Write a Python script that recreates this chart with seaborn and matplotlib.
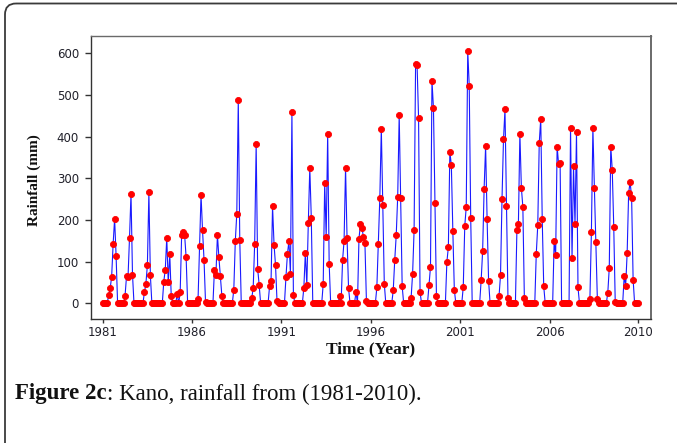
import numpy as np
import pandas as pd
import matplotlib
matplotlib.use("Agg")
import matplotlib.pyplot as plt
from matplotlib.patches import FancyBboxPatch
import seaborn as sns

# Monthly rainfall (mm), Kano, Jan..Dec for each year
y1981 = [0, 0, 0, 0, 19, 36, 63, 142, 203, 113, 0, 0]
y1982 = [0, 0, 0, 18, 65, 63, 157, 263, 69, 0, 0, 0]
y1983 = [0, 0, 0, 0, 26, 47, 92, 266, 67, 0, 0, 0]
y1984 = [0, 0, 0, 0, 0, 52, 81, 157, 50, 119, 18, 0]
y1985 = [0, 0, 22, 0, 26, 165, 170, 163, 110, 0, 0, 0]
y1986 = [0, 0, 0, 0, 10, 137, 260, 176, 105, 4, 0, 0]
y1987 = [0, 0, 0, 81, 69, 164, 110, 65, 17, 0, 0, 0]
y1988 = [0, 0, 0, 0, 33, 149, 215, 487, 153, 0, 0, 0]
y1989 = [0, 0, 0, 0, 12, 36, 143, 382, 83, 45, 0, 0]
y1990 = [0, 0, 0, 0, 41, 54, 233, 141, 91, 5, 0, 0]
y1991 = [0, 0, 0, 63, 119, 149, 71, 458, 19, 0, 0, 0]
y1992 = [0, 0, 0, 37, 121, 44, 193, 325, 205, 0, 0, 0]
y1993 = [0, 0, 0, 0, 46, 289, 159, 407, 95, 0, 0, 0]
y1994 = [0, 0, 0, 17, 0, 103, 150, 325, 156, 37, 0, 0]
y1995 = [0, 0, 27, 0, 155, 190, 180, 160, 145, 6, 0, 0]
y1996 = [0, 0, 0, 0, 38, 143, 253, 419, 236, 47, 0, 0]
y1997 = [0, 0, 0, 31, 103, 163, 256, 452, 253, 41, 0, 0]
y1998 = [0, 0, 0, 13, 71, 175, 574, 572, 445, 27, 0, 0]
y1999 = [0, 0, 0, 45, 87, 534, 468, 241, 17, 0, 0, 0]
y2000 = [0, 0, 0, 99, 135, 363, 332, 174, 33, 0, 0, 0]
y2001 = [0, 0, 39, 185, 231, 606, 522, 205, 0, 0, 0, 0]
y2002 = [0, 0, 55, 125, 275, 377, 201, 54, 0, 0, 0, 0]
y2003 = [0, 0, 17, 67, 249, 393, 465, 233, 13, 0, 0, 0]
y2004 = [0, 0, 175, 189, 407, 277, 231, 13, 0, 0, 0, 0]
y2005 = [0, 0, 0, 119, 187, 385, 443, 201, 41, 0, 0, 0]
y2006 = [0, 0, 0, 149, 115, 376, 333, 337, 0, 0, 0, 0]
y2007 = [0, 0, 421, 108, 329, 189, 410, 38, 0, 0, 0, 0]
y2008 = [0, 0, 0, 11, 171, 421, 277, 147, 10, 0, 0, 0]
y2009 = [0, 0, 0, 25, 85, 376, 320, 183, 2, 0, 0, 0]
y2010 = [0, 0, 65, 42, 121, 265, 291, 253, 57, 0, 0, 0]

tick_positions = [1, 61, 121, 181, 241, 301, 360]
tick_labels = ["1981", "1986", "1991", "1996", "2001", "2006", "2010"]
y_ticks = [0, 100, 200, 300, 400, 500, 600]

years = [y1981, y1982, y1983, y1984, y1985, y1986, y1987, y1988, y1989, y1990,
         y1991, y1992, y1993, y1994, y1995, y1996, y1997, y1998, y1999, y2000,
         y2001, y2002, y2003, y2004, y2005, y2006, y2007, y2008, y2009, y2010]
rain = np.concatenate([np.array(y, dtype=float) for y in years])
df = pd.DataFrame({"month": np.arange(1, len(rain) + 1), "rainfall": rain})

sns.set_style("ticks")
plt.rcParams["font.family"] = ["DejaVu Sans"]

W, H = 677, 443
fig = plt.figure(figsize=(W / 100, H / 100), dpi=100)

# background frame + caption layer (pixel coordinates)
bg = fig.add_axes([0, 0, 1, 1])
bg.set_xlim(0, W)
bg.set_ylim(H, 0)
bg.axis("off")
bg.add_patch(FancyBboxPatch((5, 3.5), 760, 520,
                            boxstyle="round,pad=0,rounding_size=11",
                            fill=False, ec="#3a3a3a", lw=1.3))

ax_l, ax_r, ax_t, ax_b = 90.7, 650.7, 35.7, 319.0
ax = fig.add_axes([ax_l / W, 1 - ax_b / H, (ax_r - ax_l) / W, (ax_b - ax_t) / H])

sns.lineplot(data=df, x="month", y="rainfall", ax=ax, errorbar=None,
             color="#1a1aff", linewidth=0.8, marker="o", markersize=4.4,
             markerfacecolor="#ff0000", markeredgecolor="#ff0000",
             markeredgewidth=0.6)

ax.set_xlim(-7.05, 368.8)
ax.set_ylim(-37.6, 641.7)
ax.set_xticks(tick_positions)
ax.set_xticklabels(tick_labels)
ax.set_yticks(y_ticks)
ax.tick_params(axis="both", direction="out", labelsize=8.5,
               labelcolor="#20202a", color="#333333", width=1.0)
ax.tick_params(axis="y", length=4.5, pad=4)
ax.tick_params(axis="x", length=3, pad=2)

for name, sp in ax.spines.items():
    sp.set_linewidth(1.0)
    sp.set_color("#333333" if name in ("left", "bottom") else "#6a6a6a")
ax.spines["right"].set_linewidth(1.4)

ax.set_xlabel("Time (Year)", fontfamily="Liberation Serif", fontweight="bold",
              fontsize=12.5, color="#111111")
ax.set_ylabel("Rainfall (mm)", fontfamily="Liberation Serif", fontweight="bold",
              fontsize=11, color="#111111")
ax.xaxis.set_label_coords(0.5, -0.078)
ax.yaxis.set_label_coords(-0.088, 0.49)

# caption
t1 = bg.text(15, 394, "Figure 2c", fontfamily="Liberation Serif",
             fontweight="bold", fontsize=16.5, va="center", ha="left", color="#111111")
renderer = fig.canvas.get_renderer()
bb = t1.get_window_extent(renderer)
bg.text(bb.x1, 394, ": Kano, rainfall from (1981-2010).",
        fontfamily="Liberation Serif", fontsize=16.5, va="center", ha="left",
        color="#111111")

fig.savefig("out.png", dpi=100)
